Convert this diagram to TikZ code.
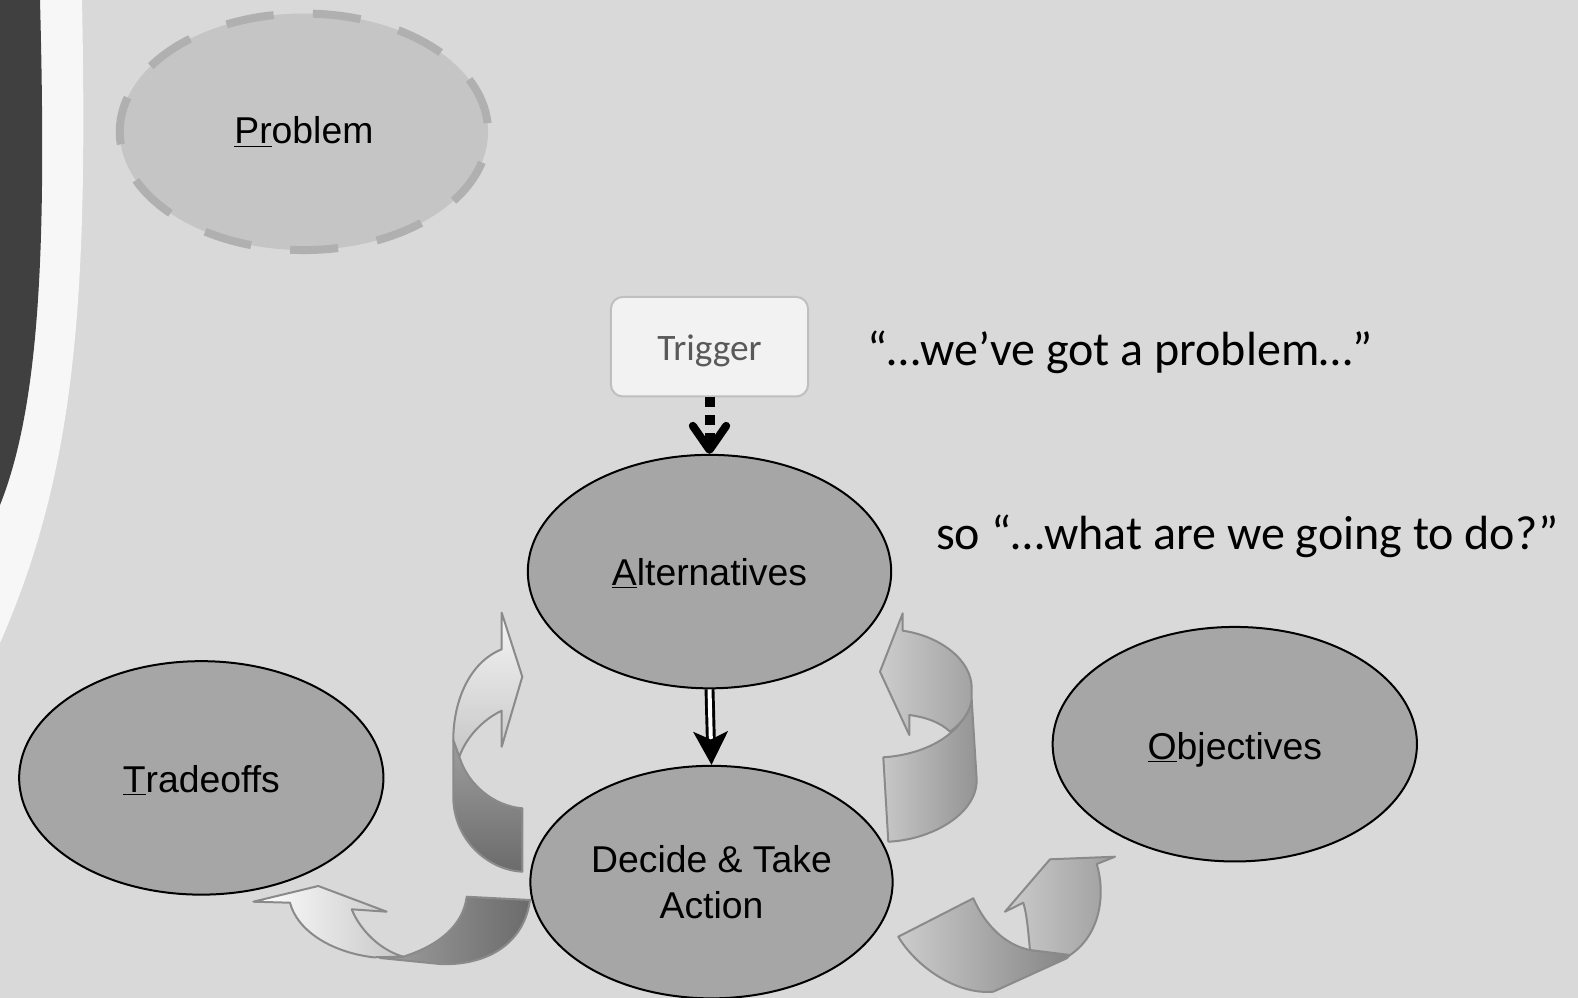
\documentclass[tikz,border=0pt]{standalone}
\usepackage{fontspec}
\setmainfont{Liberation Sans}
\newfontfamily\calibri{Carlito}
\usetikzlibrary{shapes.geometric,arrows.meta}

\definecolor{bgGray}{RGB}{217,217,217}
\definecolor{bandDark}{RGB}{64,64,64}
\definecolor{bandLight}{RGB}{247,247,247}
\definecolor{ovalFill}{RGB}{166,166,166}
\definecolor{probFill}{RGB}{197,197,197}
\definecolor{probLine}{RGB}{176,176,176}
\definecolor{trigFill}{RGB}{242,242,242}
\definecolor{trigLine}{RGB}{191,191,191}
\definecolor{trigText}{RGB}{89,89,89}
\definecolor{ribbonLine}{RGB}{138,138,138}

\newcommand{\dropText}[2]{\raisebox{-#1}[\height][\depth]{#2}}

\begin{document}
\begin{tikzpicture}[x=0.75pt,y=0.75pt,yscale=-1,xscale=1,
  oval/.style={ellipse, draw=black, line width=1.5pt, fill=ovalFill, inner sep=0pt, align=center, font=\fontsize{28}{34}\selectfont},
  probOval/.style={ellipse, draw=probLine, line width=6pt, dash pattern=on 36pt off 29.5pt, dash phase=59pt, fill=probFill, inner sep=0pt, font=\fontsize{28}{34}\selectfont},
  trigBox/.style={rectangle, rounded corners=9pt, draw=trigLine, line width=1.5pt, fill=trigFill, text=trigText, font=\calibri\fontsize{28}{32}\selectfont},
  quote/.style={anchor=west, inner sep=0pt, yshift=-2.3pt, font=\calibri\fontsize{36}{42}\selectfont},
  ribbon/.style={draw=ribbonLine, line width=1.5pt, line join=round},
  trigArrow/.style={line width=7.5pt, dash pattern=on 7.5pt off 6pt, -{Straight Barb[length=18pt,width=25pt,line width=6pt,round]}},
  altArrow/.style={line width=2.2pt, double=white, double distance=3pt, -{Stealth[length=25pt,width=26pt,inset=6pt]}}
]
%Background
\fill[bgGray] (0,0) rectangle (1578,998);
\useasboundingbox (0,0) rectangle (1578,998);
%Shape: left bands
\fill[bandLight] (0,0) -- (82,0) .. controls (88,300) and (76,470) .. (0,643) -- cycle;
\fill[bandDark] (0,0) -- (40,0) .. controls (46,230) and (42,400) .. (0,505) -- cycle;

%Shape: Ellipses
\node[probOval, minimum width=276.2pt, minimum height=177.4pt] (prob) at (303.9,131.8) {\underline{Pr}oblem};
\node[trigBox, minimum width=147.9pt, minimum height=74.7pt] (trig) at (709.5,346.7) {\dropText{3pt}{Trigger}};
\node[oval, minimum width=272.5pt, minimum height=175.1pt] (alt) at (709.5,571.6) {\dropText{1.5pt}{\underline{A}lternatives}};
\node[oval, minimum width=271.7pt, minimum height=174.4pt] (dec) at (711.5,882.1) {Decide \& Take\\Action};
\node[oval, minimum width=273.2pt, minimum height=175.1pt] (trade) at (201.3,777.9) {\dropText{1.5pt}{\underline{T}radeoffs}};
\node[oval, minimum width=273.2pt, minimum height=175.9pt] (obj) at (1234.8,744.2) {\dropText{4pt}{\underline{O}bjectives}};

% Text Node
\node[quote] (saidA) at (867.5,349.2) {“…we’ve got a problem…”};
% Text Node
\node[quote] (saidB) at (935.9,533.4) {so “…what are we going to do?”};

%Arrows
\draw[trigArrow] (trig.south) -- (alt.north);
\draw[altArrow] (alt.south) -- (dec.north);

%U Turn Arrow: left
\shadedraw[ribbon, top color=black!38, bottom color=black!58] (453.3,740) -- (453.3,796.7) .. controls (453.3,840) and (488,870) .. (522.3,871.7) -- (522.3,808.3) .. controls (494,806) and (468,785) .. (459.3,756.7) -- cycle;
\shadedraw[ribbon, top color=black!4, bottom color=black!22] (501.7,649.3) -- (501.7,612.7) -- (522.3,676.7) -- (501.7,746.7) -- (501.7,710.7) .. controls (482,720) and (466,738) .. (459.3,756.7) -- (453.3,740) .. controls (453.3,700) and (470,662) .. (501.7,649.3) -- cycle;
%U Turn Arrow: right
\shadedraw[ribbon, left color=black!22, right color=black!42] (883.3,757.3) .. controls (920,755) and (962,738) .. (971.7,700) -- (976.7,780) .. controls (976.7,815) and (930,840) .. (888.3,841.7) -- cycle;
\shadedraw[ribbon, left color=black!20, right color=black!36] (902.7,630.7) -- (902.7,613.3) -- (880,671.7) -- (909.3,735) -- (909.3,715) .. controls (925,717) and (940,722) .. (950,731.7) .. controls (962,723) and (970,712) .. (971.7,700) -- (971.7,688) .. controls (971.7,660) and (940,636) .. (902.7,630.7) -- cycle;
%U Turn Arrow: bottom left
\shadedraw[ribbon, left color=black!38, right color=black!58] (466.7,896.7) -- (530,900) .. controls (524,945) and (485,966) .. (440,964) -- (380,958) -- (403.3,956.7) .. controls (440,945) and (463,925) .. (466.7,896.7) -- cycle;
\shadedraw[ribbon, left color=white, right color=black!22] (290,902.7) -- (253.3,901.7) -- (318.3,886) -- (386.7,911.7) -- (351.7,909.3) .. controls (360,930) and (380,950) .. (403.3,956.7) -- (373.3,957.3) .. controls (330,952) and (297,930) .. (290,902.7) -- cycle;
%U Turn Arrow: bottom right
\shadedraw[ribbon, left color=black!20, right color=black!48] (898.3,936.7) -- (973.3,898.3) .. controls (985,925) and (1005,945) .. (1030,950) -- (1070,955) -- (1066.7,958.3) -- (993.3,991.7) .. controls (955,995) and (915,965) .. (898.3,936.7) -- cycle;
\shadedraw[ribbon, left color=black!20, right color=black!38] (1023.3,902.7) -- (1005,911.7) -- (1050,859.3) -- (1115,856.7) -- (1096.7,864) .. controls (1106,895) and (1100,935) .. (1070,955) -- (1030,950) .. controls (1028,930) and (1027,915) .. (1023.3,902.7) -- cycle;

\end{tikzpicture}
\end{document}
